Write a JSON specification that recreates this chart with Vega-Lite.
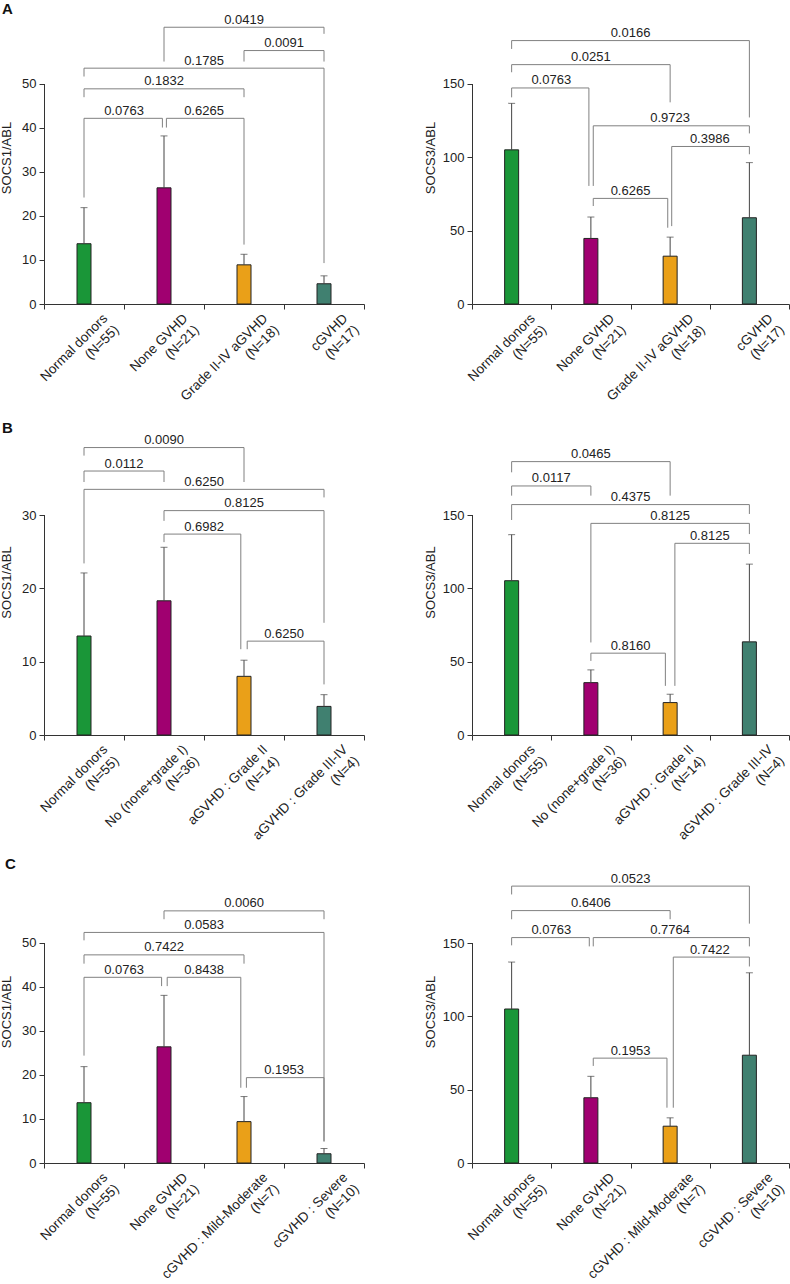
{
  "$schema": "https://vega.github.io/schema/vega-lite/v6.json",
  "padding": {"left": 0, "top": 2, "right": 0, "bottom": 0},
  "columns": 2,
  "spacing": {"row": 125, "column": 108},
  "bounds": "flush",
  "align": "each",
  "resolve": {"scale": {"color": "independent"}},
  "datasets": {
    "barsA1": [
      {"cat": "Normal donors|(N=55)", "mean": 13.7, "err": 21.9},
      {"cat": "None GVHD|(N=21)", "mean": 26.4, "err": 38.2},
      {"cat": "Grade II-IV aGVHD|(N=18)", "mean": 8.9, "err": 11.3},
      {"cat": "cGVHD|(N=17)", "mean": 4.6, "err": 6.4}
    ],
    "brA1": [
      {"p": "0.0763", "from": 1, "to": 1.98, "h": 42.2, "lo1": 24.2, "lo2": 40.1, "mid": 1.5},
      {"p": "0.6265", "from": 2.03, "to": 3, "h": 42.2, "lo1": 40.1, "lo2": 13.5, "mid": 2.5},
      {"p": "0.1832", "from": 1, "to": 3, "h": 48.9, "lo1": 47.0, "lo2": 47.0, "mid": 2},
      {"p": "0.1785", "from": 1, "to": 4, "h": 53.6, "lo1": 51.7, "lo2": 9.3, "mid": 2.5},
      {"p": "0.0091", "from": 3, "to": 4, "h": 57.6, "lo1": 55.1, "lo2": 55.1, "mid": 3.5},
      {"p": "0.0419", "from": 2, "to": 4, "h": 62.9, "lo1": 55.1, "lo2": 61.4, "mid": 3}
    ],
    "barsA2": [
      {"cat": "Normal donors|(N=55)", "mean": 105.1, "err": 136.8},
      {"cat": "None GVHD|(N=21)", "mean": 44.7, "err": 59.3},
      {"cat": "Grade II-IV aGVHD|(N=18)", "mean": 32.6, "err": 45.6},
      {"cat": "cGVHD|(N=17)", "mean": 58.8, "err": 96.4}
    ],
    "brA2": [
      {"p": "0.0763", "from": 1, "to": 1.975, "h": 147.3, "lo1": 140.9, "lo2": 80.5, "mid": 1.5},
      {"p": "0.0251", "from": 1, "to": 3, "h": 163.2, "lo1": 158.0, "lo2": 137.5, "mid": 2},
      {"p": "0.0166", "from": 1, "to": 4, "h": 179.6, "lo1": 173.9, "lo2": 127.2, "mid": 2.5},
      {"p": "0.9723", "from": 2.03, "to": 4, "h": 121.5, "lo1": 80.5, "lo2": 116.3, "mid": 3},
      {"p": "0.3986", "from": 3.02, "to": 4, "h": 107.4, "lo1": 53.1, "lo2": 102.1, "mid": 3.5},
      {"p": "0.6265", "from": 2.03, "to": 2.97, "h": 72.0, "lo1": 66.8, "lo2": 52.0, "mid": 2.5}
    ],
    "barsB1": [
      {"cat": "Normal donors|(N=55)", "mean": 13.5, "err": 22.1},
      {"cat": "No (none+grade I)|(N=36)", "mean": 18.3, "err": 25.6},
      {"cat": "aGVHD : Grade II|(N=14)", "mean": 8.0, "err": 10.2},
      {"cat": "aGVHD : Grade III-IV|(N=4)", "mean": 3.9, "err": 5.5}
    ],
    "brB1": [
      {"p": "0.0090", "from": 1, "to": 3, "h": 39.2, "lo1": 38.1, "lo2": 34.5, "mid": 2},
      {"p": "0.0112", "from": 1, "to": 2, "h": 36.0, "lo1": 34.5, "lo2": 34.5, "mid": 1.5},
      {"p": "0.6250", "from": 1, "to": 4, "h": 33.5, "lo1": 23.4, "lo2": 32.4, "mid": 2.5},
      {"p": "0.8125", "from": 2, "to": 4, "h": 30.6, "lo1": 29.2, "lo2": 15.3, "mid": 3},
      {"p": "0.6982", "from": 2, "to": 2.96, "h": 27.4, "lo1": 26.3, "lo2": 11.7, "mid": 2.5},
      {"p": "0.6250", "from": 3.04, "to": 4, "h": 12.8, "lo1": 11.7, "lo2": 6.9, "mid": 3.5}
    ],
    "barsB2": [
      {"cat": "Normal donors|(N=55)", "mean": 105.2, "err": 136.6},
      {"cat": "No (none+grade I)|(N=36)", "mean": 35.7, "err": 44.4},
      {"cat": "aGVHD : Grade II|(N=14)", "mean": 22.1, "err": 27.8},
      {"cat": "aGVHD : Grade III-IV|(N=4)", "mean": 63.5, "err": 116.5}
    ],
    "brB2": [
      {"p": "0.0465", "from": 1, "to": 3, "h": 186.4, "lo1": 179.1, "lo2": 163.2, "mid": 2},
      {"p": "0.0117", "from": 1, "to": 2, "h": 169.8, "lo1": 163.2, "lo2": 163.2, "mid": 1.5},
      {"p": "0.4375", "from": 1, "to": 4, "h": 157.1, "lo1": 146.6, "lo2": 150.7, "mid": 2.5},
      {"p": "0.8125", "from": 2, "to": 4, "h": 144.3, "lo1": 63.1, "lo2": 137.0, "mid": 3},
      {"p": "0.8125", "from": 3.06, "to": 4, "h": 130.7, "lo1": 33.5, "lo2": 123.4, "mid": 3.5},
      {"p": "0.8160", "from": 2, "to": 2.94, "h": 55.8, "lo1": 50.5, "lo2": 33.5, "mid": 2.5}
    ],
    "barsC1": [
      {"cat": "Normal donors|(N=55)", "mean": 13.7, "err": 21.9},
      {"cat": "None GVHD|(N=21)", "mean": 26.4, "err": 38.1},
      {"cat": "cGVHD : Mild-Moderate|(N=7)", "mean": 9.4, "err": 15.1},
      {"cat": "cGVHD : Severe|(N=10)", "mean": 2.1, "err": 3.3}
    ],
    "brC1": [
      {"p": "0.0060", "from": 2, "to": 4, "h": 57.3, "lo1": 55.4, "lo2": 55.4, "mid": 3},
      {"p": "0.0583", "from": 1, "to": 4, "h": 52.4, "lo1": 50.6, "lo2": 4.9, "mid": 2.5},
      {"p": "0.7422", "from": 1, "to": 3, "h": 47.3, "lo1": 45.3, "lo2": 45.3, "mid": 2},
      {"p": "0.0763", "from": 1, "to": 1.97, "h": 42.2, "lo1": 24.4, "lo2": 40.2, "mid": 1.5},
      {"p": "0.8438", "from": 2.04, "to": 2.96, "h": 42.2, "lo1": 40.2, "lo2": 17.1, "mid": 2.5},
      {"p": "0.1953", "from": 3.03, "to": 4, "h": 19.4, "lo1": 17.1, "lo2": 4.9, "mid": 3.5}
    ],
    "barsC2": [
      {"cat": "Normal donors|(N=55)", "mean": 105.0, "err": 137.0},
      {"cat": "None GVHD|(N=21)", "mean": 44.5, "err": 59.1},
      {"cat": "cGVHD : Mild-Moderate|(N=7)", "mean": 25.1, "err": 30.8},
      {"cat": "cGVHD : Severe|(N=10)", "mean": 73.5, "err": 129.7}
    ],
    "brC2": [
      {"p": "0.0523", "from": 1, "to": 4, "h": 188.8, "lo1": 183.1, "lo2": 163.2, "mid": 2.5},
      {"p": "0.6406", "from": 1, "to": 3, "h": 172.1, "lo1": 166.2, "lo2": 166.2, "mid": 2},
      {"p": "0.0763", "from": 1, "to": 1.98, "h": 153.7, "lo1": 148.4, "lo2": 147.7, "mid": 1.5},
      {"p": "0.7764", "from": 2.03, "to": 4, "h": 153.7, "lo1": 147.7, "lo2": 147.7, "mid": 3},
      {"p": "0.7422", "from": 3.04, "to": 4, "h": 140.4, "lo1": 37.7, "lo2": 134.0, "mid": 3.5},
      {"p": "0.1953", "from": 2.03, "to": 2.96, "h": 71.5, "lo1": 66.2, "lo2": 37.7, "mid": 2.5}
    ]
  },
  "concat": [
    {
      "width": 320, "height": 293,
      "title": {"text": "A", "anchor": "start", "frame": "group", "fontSize": 15, "fontWeight": "bold", "dx": -42, "offset": -6},
      "resolve": {"scale": {"x": "independent"}},
      "layer": [
        {"data": {"name": "barsA1"},
         "layer": [
          {"mark": {"type": "bar", "size": 14, "stroke": "#222", "strokeWidth": 1},
           "encoding": {
             "x": {"field": "cat", "type": "nominal", "sort": null, "title": null, "scale": {"paddingInner": 0, "paddingOuter": 0},
                   "axis": {"tickBand": "extent", "labelAngle": -45, "labelAlign": "right", "labelBaseline": "top", "labelExpr": "split(datum.label, '|')", "labelOffset": 16, "labelPadding": 2, "labelFontSize": 13.5, "labelLineHeight": 16, "labelOverlap": false, "labelLimit": 300}},
             "y": {"field": "mean", "type": "quantitative", "title": "SOCS1/ABL", "scale": {"domain": [0, 66.59], "nice": false},
                   "axis": {"values": [0, 10, 20, 30, 40, 50], "labelFontSize": 13, "titleFontSize": 13, "titlePadding": 8, "domainDash": [220.5, 2000]}},
             "color": {"field": "cat", "type": "nominal", "sort": null, "scale": {"range": ["#1a9638", "#a00070", "#eaa018", "#408070"]}, "legend": null}}},
          {"mark": {"type": "rule", "color": "#444"},
           "encoding": {"x": {"field": "cat", "type": "nominal", "sort": null, "title": null}, "y": {"field": "mean", "type": "quantitative", "title": "SOCS1/ABL"}, "y2": {"field": "err"}}},
          {"mark": {"type": "tick", "color": "#444", "size": 7, "thickness": 1},
           "encoding": {"x": {"field": "cat", "type": "nominal", "sort": null, "title": null}, "y": {"field": "err", "type": "quantitative", "title": "SOCS1/ABL"}}}
         ]},
        {"data": {"name": "brA1"},
         "encoding": {"y": {"field": "h", "type": "quantitative", "title": "SOCS1/ABL", "scale": {"domain": [0, 66.59], "nice": false}}},
         "layer": [
          {"mark": {"type": "rule", "color": "#808080"}, "encoding": {"x": {"field": "from", "type": "quantitative", "axis": null, "scale": {"domain": [0.5, 4.5], "nice": false, "zero": false}}, "x2": {"field": "to"}}},
          {"mark": {"type": "rule", "color": "#808080"}, "encoding": {"x": {"field": "from", "type": "quantitative", "axis": null}, "y2": {"field": "lo1"}}},
          {"mark": {"type": "rule", "color": "#808080"}, "encoding": {"x": {"field": "to", "type": "quantitative", "axis": null}, "y2": {"field": "lo2"}}},
          {"mark": {"type": "text", "baseline": "alphabetic", "dy": -3.5, "fontSize": 13}, "encoding": {"x": {"field": "mid", "type": "quantitative", "axis": null}, "text": {"field": "p"}}}
         ]}
      ]
    },
    {
      "width": 317, "height": 293,
      "resolve": {"scale": {"x": "independent"}},
      "layer": [
        {"data": {"name": "barsA2"},
         "layer": [
          {"mark": {"type": "bar", "size": 14, "stroke": "#222", "strokeWidth": 1},
           "encoding": {
             "x": {"field": "cat", "type": "nominal", "sort": null, "title": null, "scale": {"paddingInner": 0, "paddingOuter": 0},
                   "axis": {"tickBand": "extent", "labelAngle": -45, "labelAlign": "right", "labelBaseline": "top", "labelExpr": "split(datum.label, '|')", "labelOffset": 16, "labelPadding": 2, "labelFontSize": 13.5, "labelLineHeight": 16, "labelOverlap": false, "labelLimit": 300}},
             "y": {"field": "mean", "type": "quantitative", "title": "SOCS3/ABL", "scale": {"domain": [0, 199.77], "nice": false},
                   "axis": {"values": [0, 50, 100, 150], "labelFontSize": 13, "titleFontSize": 13, "titlePadding": 5, "domainDash": [220.5, 2000]}},
             "color": {"field": "cat", "type": "nominal", "sort": null, "scale": {"range": ["#1a9638", "#a00070", "#eaa018", "#408070"]}, "legend": null}}},
          {"mark": {"type": "rule", "color": "#444"},
           "encoding": {"x": {"field": "cat", "type": "nominal", "sort": null, "title": null}, "y": {"field": "mean", "type": "quantitative", "title": "SOCS3/ABL"}, "y2": {"field": "err"}}},
          {"mark": {"type": "tick", "color": "#444", "size": 7, "thickness": 1},
           "encoding": {"x": {"field": "cat", "type": "nominal", "sort": null, "title": null}, "y": {"field": "err", "type": "quantitative", "title": "SOCS3/ABL"}}}
         ]},
        {"data": {"name": "brA2"},
         "encoding": {"y": {"field": "h", "type": "quantitative", "title": "SOCS3/ABL", "scale": {"domain": [0, 199.77], "nice": false}}},
         "layer": [
          {"mark": {"type": "rule", "color": "#808080"}, "encoding": {"x": {"field": "from", "type": "quantitative", "axis": null, "scale": {"domain": [0.5, 4.5], "nice": false, "zero": false}}, "x2": {"field": "to"}}},
          {"mark": {"type": "rule", "color": "#808080"}, "encoding": {"x": {"field": "from", "type": "quantitative", "axis": null}, "y2": {"field": "lo1"}}},
          {"mark": {"type": "rule", "color": "#808080"}, "encoding": {"x": {"field": "to", "type": "quantitative", "axis": null}, "y2": {"field": "lo2"}}},
          {"mark": {"type": "text", "baseline": "alphabetic", "dy": -3.5, "fontSize": 13}, "encoding": {"x": {"field": "mid", "type": "quantitative", "axis": null}, "text": {"field": "p"}}}
         ]}
      ]
    },
    {
      "width": 320, "height": 306,
      "title": {"text": "B", "anchor": "start", "frame": "group", "fontSize": 15, "fontWeight": "bold", "dx": -42, "offset": -7},
      "resolve": {"scale": {"x": "independent"}},
      "layer": [
        {"data": {"name": "barsB1"},
         "layer": [
          {"mark": {"type": "bar", "size": 14, "stroke": "#222", "strokeWidth": 1},
           "encoding": {
             "x": {"field": "cat", "type": "nominal", "sort": null, "title": null, "scale": {"paddingInner": 0, "paddingOuter": 0},
                   "axis": {"tickBand": "extent", "labelAngle": -45, "labelAlign": "right", "labelBaseline": "top", "labelExpr": "split(datum.label, '|')", "labelOffset": 16, "labelPadding": 2, "labelFontSize": 13.5, "labelLineHeight": 16, "labelOverlap": false, "labelLimit": 300}},
             "y": {"field": "mean", "type": "quantitative", "title": "SOCS1/ABL", "scale": {"domain": [0, 41.73], "nice": false},
                   "axis": {"values": [0, 10, 20, 30], "labelFontSize": 13, "titleFontSize": 13, "titlePadding": 8, "domainDash": [220.5, 2000]}},
             "color": {"field": "cat", "type": "nominal", "sort": null, "scale": {"range": ["#1a9638", "#a00070", "#eaa018", "#408070"]}, "legend": null}}},
          {"mark": {"type": "rule", "color": "#444"},
           "encoding": {"x": {"field": "cat", "type": "nominal", "sort": null, "title": null}, "y": {"field": "mean", "type": "quantitative", "title": "SOCS1/ABL"}, "y2": {"field": "err"}}},
          {"mark": {"type": "tick", "color": "#444", "size": 7, "thickness": 1},
           "encoding": {"x": {"field": "cat", "type": "nominal", "sort": null, "title": null}, "y": {"field": "err", "type": "quantitative", "title": "SOCS1/ABL"}}}
         ]},
        {"data": {"name": "brB1"},
         "encoding": {"y": {"field": "h", "type": "quantitative", "title": "SOCS1/ABL", "scale": {"domain": [0, 41.73], "nice": false}}},
         "layer": [
          {"mark": {"type": "rule", "color": "#808080"}, "encoding": {"x": {"field": "from", "type": "quantitative", "axis": null, "scale": {"domain": [0.5, 4.5], "nice": false, "zero": false}}, "x2": {"field": "to"}}},
          {"mark": {"type": "rule", "color": "#808080"}, "encoding": {"x": {"field": "from", "type": "quantitative", "axis": null}, "y2": {"field": "lo1"}}},
          {"mark": {"type": "rule", "color": "#808080"}, "encoding": {"x": {"field": "to", "type": "quantitative", "axis": null}, "y2": {"field": "lo2"}}},
          {"mark": {"type": "text", "baseline": "alphabetic", "dy": -3.5, "fontSize": 13}, "encoding": {"x": {"field": "mid", "type": "quantitative", "axis": null}, "text": {"field": "p"}}}
         ]}
      ]
    },
    {
      "width": 317, "height": 306,
      "resolve": {"scale": {"x": "independent"}},
      "layer": [
        {"data": {"name": "barsB2"},
         "layer": [
          {"mark": {"type": "bar", "size": 14, "stroke": "#222", "strokeWidth": 1},
           "encoding": {
             "x": {"field": "cat", "type": "nominal", "sort": null, "title": null, "scale": {"paddingInner": 0, "paddingOuter": 0},
                   "axis": {"tickBand": "extent", "labelAngle": -45, "labelAlign": "right", "labelBaseline": "top", "labelExpr": "split(datum.label, '|')", "labelOffset": 16, "labelPadding": 2, "labelFontSize": 13.5, "labelLineHeight": 16, "labelOverlap": false, "labelLimit": 300}},
             "y": {"field": "mean", "type": "quantitative", "title": "SOCS3/ABL", "scale": {"domain": [0, 208.64], "nice": false},
                   "axis": {"values": [0, 50, 100, 150], "labelFontSize": 13, "titleFontSize": 13, "titlePadding": 5, "domainDash": [220.5, 2000]}},
             "color": {"field": "cat", "type": "nominal", "sort": null, "scale": {"range": ["#1a9638", "#a00070", "#eaa018", "#408070"]}, "legend": null}}},
          {"mark": {"type": "rule", "color": "#444"},
           "encoding": {"x": {"field": "cat", "type": "nominal", "sort": null, "title": null}, "y": {"field": "mean", "type": "quantitative", "title": "SOCS3/ABL"}, "y2": {"field": "err"}}},
          {"mark": {"type": "tick", "color": "#444", "size": 7, "thickness": 1},
           "encoding": {"x": {"field": "cat", "type": "nominal", "sort": null, "title": null}, "y": {"field": "err", "type": "quantitative", "title": "SOCS3/ABL"}}}
         ]},
        {"data": {"name": "brB2"},
         "encoding": {"y": {"field": "h", "type": "quantitative", "title": "SOCS3/ABL", "scale": {"domain": [0, 208.64], "nice": false}}},
         "layer": [
          {"mark": {"type": "rule", "color": "#808080"}, "encoding": {"x": {"field": "from", "type": "quantitative", "axis": null, "scale": {"domain": [0.5, 4.5], "nice": false, "zero": false}}, "x2": {"field": "to"}}},
          {"mark": {"type": "rule", "color": "#808080"}, "encoding": {"x": {"field": "from", "type": "quantitative", "axis": null}, "y2": {"field": "lo1"}}},
          {"mark": {"type": "rule", "color": "#808080"}, "encoding": {"x": {"field": "to", "type": "quantitative", "axis": null}, "y2": {"field": "lo2"}}},
          {"mark": {"type": "text", "baseline": "alphabetic", "dy": -3.5, "fontSize": 13}, "encoding": {"x": {"field": "mid", "type": "quantitative", "axis": null}, "text": {"field": "p"}}}
         ]}
      ]
    },
    {
      "width": 320, "height": 303,
      "title": {"text": "C", "anchor": "start", "frame": "group", "fontSize": 15, "fontWeight": "bold", "dx": -39, "offset": -12},
      "resolve": {"scale": {"x": "independent"}},
      "layer": [
        {"data": {"name": "barsC1"},
         "layer": [
          {"mark": {"type": "bar", "size": 14, "stroke": "#222", "strokeWidth": 1},
           "encoding": {
             "x": {"field": "cat", "type": "nominal", "sort": null, "title": null, "scale": {"paddingInner": 0, "paddingOuter": 0},
                   "axis": {"tickBand": "extent", "labelAngle": -45, "labelAlign": "right", "labelBaseline": "top", "labelExpr": "split(datum.label, '|')", "labelOffset": 16, "labelPadding": 2, "labelFontSize": 13.5, "labelLineHeight": 16, "labelOverlap": false, "labelLimit": 300}},
             "y": {"field": "mean", "type": "quantitative", "title": "SOCS1/ABL", "scale": {"domain": [0, 68.86], "nice": false},
                   "axis": {"values": [0, 10, 20, 30, 40, 50], "labelFontSize": 13, "titleFontSize": 13, "titlePadding": 8, "domainDash": [220.5, 2000]}},
             "color": {"field": "cat", "type": "nominal", "sort": null, "scale": {"range": ["#1a9638", "#a00070", "#eaa018", "#408070"]}, "legend": null}}},
          {"mark": {"type": "rule", "color": "#444"},
           "encoding": {"x": {"field": "cat", "type": "nominal", "sort": null, "title": null}, "y": {"field": "mean", "type": "quantitative", "title": "SOCS1/ABL"}, "y2": {"field": "err"}}},
          {"mark": {"type": "tick", "color": "#444", "size": 7, "thickness": 1},
           "encoding": {"x": {"field": "cat", "type": "nominal", "sort": null, "title": null}, "y": {"field": "err", "type": "quantitative", "title": "SOCS1/ABL"}}}
         ]},
        {"data": {"name": "brC1"},
         "encoding": {"y": {"field": "h", "type": "quantitative", "title": "SOCS1/ABL", "scale": {"domain": [0, 68.86], "nice": false}}},
         "layer": [
          {"mark": {"type": "rule", "color": "#808080"}, "encoding": {"x": {"field": "from", "type": "quantitative", "axis": null, "scale": {"domain": [0.5, 4.5], "nice": false, "zero": false}}, "x2": {"field": "to"}}},
          {"mark": {"type": "rule", "color": "#808080"}, "encoding": {"x": {"field": "from", "type": "quantitative", "axis": null}, "y2": {"field": "lo1"}}},
          {"mark": {"type": "rule", "color": "#808080"}, "encoding": {"x": {"field": "to", "type": "quantitative", "axis": null}, "y2": {"field": "lo2"}}},
          {"mark": {"type": "text", "baseline": "alphabetic", "dy": -3.5, "fontSize": 13}, "encoding": {"x": {"field": "mid", "type": "quantitative", "axis": null}, "text": {"field": "p"}}}
         ]}
      ]
    },
    {
      "width": 317, "height": 303,
      "resolve": {"scale": {"x": "independent"}},
      "layer": [
        {"data": {"name": "barsC2"},
         "layer": [
          {"mark": {"type": "bar", "size": 14, "stroke": "#222", "strokeWidth": 1},
           "encoding": {
             "x": {"field": "cat", "type": "nominal", "sort": null, "title": null, "scale": {"paddingInner": 0, "paddingOuter": 0},
                   "axis": {"tickBand": "extent", "labelAngle": -45, "labelAlign": "right", "labelBaseline": "top", "labelExpr": "split(datum.label, '|')", "labelOffset": 16, "labelPadding": 2, "labelFontSize": 13.5, "labelLineHeight": 16, "labelOverlap": false, "labelLimit": 300}},
             "y": {"field": "mean", "type": "quantitative", "title": "SOCS3/ABL", "scale": {"domain": [0, 206.6], "nice": false},
                   "axis": {"values": [0, 50, 100, 150], "labelFontSize": 13, "titleFontSize": 13, "titlePadding": 5, "domainDash": [220.5, 2000]}},
             "color": {"field": "cat", "type": "nominal", "sort": null, "scale": {"range": ["#1a9638", "#a00070", "#eaa018", "#408070"]}, "legend": null}}},
          {"mark": {"type": "rule", "color": "#444"},
           "encoding": {"x": {"field": "cat", "type": "nominal", "sort": null, "title": null}, "y": {"field": "mean", "type": "quantitative", "title": "SOCS3/ABL"}, "y2": {"field": "err"}}},
          {"mark": {"type": "tick", "color": "#444", "size": 7, "thickness": 1},
           "encoding": {"x": {"field": "cat", "type": "nominal", "sort": null, "title": null}, "y": {"field": "err", "type": "quantitative", "title": "SOCS3/ABL"}}}
         ]},
        {"data": {"name": "brC2"},
         "encoding": {"y": {"field": "h", "type": "quantitative", "title": "SOCS3/ABL", "scale": {"domain": [0, 206.6], "nice": false}}},
         "layer": [
          {"mark": {"type": "rule", "color": "#808080"}, "encoding": {"x": {"field": "from", "type": "quantitative", "axis": null, "scale": {"domain": [0.5, 4.5], "nice": false, "zero": false}}, "x2": {"field": "to"}}},
          {"mark": {"type": "rule", "color": "#808080"}, "encoding": {"x": {"field": "from", "type": "quantitative", "axis": null}, "y2": {"field": "lo1"}}},
          {"mark": {"type": "rule", "color": "#808080"}, "encoding": {"x": {"field": "to", "type": "quantitative", "axis": null}, "y2": {"field": "lo2"}}},
          {"mark": {"type": "text", "baseline": "alphabetic", "dy": -3.5, "fontSize": 13}, "encoding": {"x": {"field": "mid", "type": "quantitative", "axis": null}, "text": {"field": "p"}}}
         ]}
      ]
    }
  ],
  "config": {
    "font": "Liberation Sans",
    "view": {"stroke": null},
    "axis": {"grid": false, "labelFontSize": 13, "titleFontSize": 13, "titleFontWeight": "normal", "labelColor": "#222", "titleColor": "#222", "domainColor": "#333", "tickColor": "#333", "tickSize": 5, "labelPadding": 3},
    "text": {"fontSize": 13, "color": "#222"},
    "title": {"color": "#111"}
  }
}
